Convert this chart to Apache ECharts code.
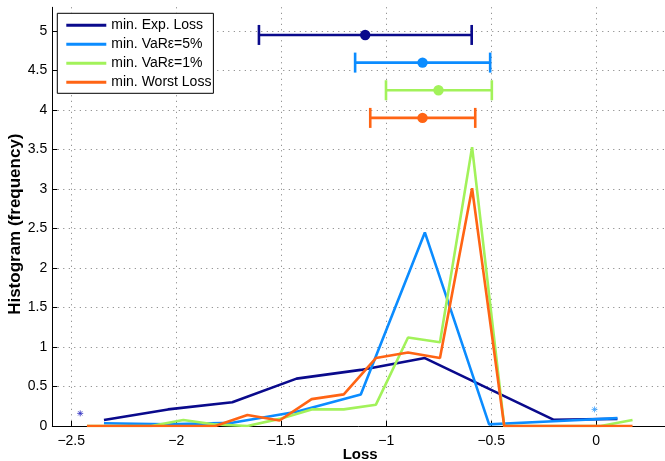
<!DOCTYPE html>
<html>
<head>
<meta charset="utf-8">
<script src="https://cdn.jsdelivr.net/npm/echarts@6/dist/echarts.min.js"></script>
<style>html,body{margin:0;padding:0;background:#fff}#c{width:665px;height:461px}</style>
</head>
<body>
<div id="c"></div>
<script>
// ---- data ----
const seriesNames = ['min. Exp. Loss', 'min. VaR\u03b5=5%', 'min. VaR\u03b5=1%', 'min. Worst Loss'];
const colors = ['#0a0a8c', '#0b8cff', '#a2f25a', '#ff6414'];

// coarse bins (9) for Exp. Loss and VaR 5%
const binsCoarse = [-2.344, -2.039, -1.733, -1.427, -1.121, -0.816, -0.510, -0.204, 0.101];
const expLoss = [0.076, 0.21, 0.30, 0.60, 0.71, 0.86, 0.47, 0.08, 0.09];
const var5 = [0.034, 0.02, 0.04, 0.18, 0.40, 2.45, 0.02, 0.06, 0.10];

// fine bins (18) for VaR 1% and Worst Loss
const binsFine = [-2.425, -2.272, -2.119, -1.966, -1.814, -1.661, -1.508, -1.355, -1.202,
                  -1.049, -0.896, -0.744, -0.591, -0.438, -0.285, -0.132, 0.021, 0.173];
const var1 = [0, 0, 0, 0.075, 0.02, 0, 0.09, 0.21, 0.21, 0.27, 1.12, 1.06, 3.53, 0, 0, 0, 0, 0.076];
const worst = [0, 0, 0, 0, 0, 0.14, 0.07, 0.34, 0.40, 0.86, 0.93, 0.86, 3.01, 0, 0, 0, 0, 0];

// error bars: [low, mean, high, yLevel]
const errLow = [-1.606, -1.148, -1.001, -1.076];
const errMid = [-1.100, -0.827, -0.751, -0.827];
const errHigh = [-0.593, -0.505, -0.497, -0.576];
const errY = [4.95, 4.60, 4.25, 3.90];

// star markers
const starX = [-2.457, -0.008];
const starY = [0.16, 0.21];
const starColors = ['#2c2cc0', '#3aa0ff'];

const xTicks = [-2.5, -2, -1.5, -1, -0.5, 0];
const yTicks = [0, 0.5, 1, 1.5, 2, 2.5, 3, 3.5, 4, 4.5, 5];

// ---- chart ----
const FONT = '"Liberation Sans", Arial, Helvetica, sans-serif';
const zip = (xs, ys) => xs.map((x, i) => [x, ys[i]]);
const lineData = [zip(binsCoarse, expLoss), zip(binsCoarse, var5), zip(binsFine, var1), zip(binsFine, worst)];

const chart = echarts.init(document.getElementById('c'), null, {renderer: 'canvas'});

const series = [];
lineData.forEach((d, i) => {
  series.push({
    name: seriesNames[i], type: 'line', data: d, symbol: 'none',
    lineStyle: {color: colors[i], width: 2.6}, itemStyle: {color: colors[i]},
    z: 3 + i, animation: false
  });
});
errY.forEach((y, i) => {
  const c = colors[i];
  series.push({
    name: 'err' + i, type: 'custom', z: 10, animation: false,
    data: [[errLow[i], errMid[i], errHigh[i], y]],
    encode: {x: [0, 1, 2], y: 3},
    renderItem: function (params, api) {
      const lo = api.coord([api.value(0), api.value(3)]);
      const mid = api.coord([api.value(1), api.value(3)]);
      const hi = api.coord([api.value(2), api.value(3)]);
      const st = {stroke: c, lineWidth: 2.6};
      return {type: 'group', children: [
        {type: 'line', shape: {x1: lo[0], y1: lo[1], x2: hi[0], y2: hi[1]}, style: st},
        {type: 'line', shape: {x1: lo[0], y1: lo[1] - 10, x2: lo[0], y2: lo[1] + 10}, style: st},
        {type: 'line', shape: {x1: hi[0], y1: hi[1] - 10, x2: hi[0], y2: hi[1] + 10}, style: st},
        {type: 'circle', shape: {cx: mid[0], cy: mid[1], r: 5.2}, style: {fill: c}}
      ]};
    }
  });
});
starX.forEach((x, i) => {
  series.push({
    name: 'star' + i, type: 'scatter', data: [[x, starY[i]]], z: 12, animation: false,
    symbol: 'path://M0,-5L0,5M-5,0L5,0M-3.5,-3.5L3.5,3.5M3.5,-3.5L-3.5,3.5',
    symbolSize: 6,
    itemStyle: {color: 'rgba(0,0,0,0)', borderColor: starColors[i], borderWidth: 1}
  });
});

const axisText = {color: '#000', fontFamily: FONT, fontSize: 14};
chart.setOption({
  animation: false,
  backgroundColor: '#fff',
  textStyle: {fontFamily: FONT},
  grid: {left: 52.3, right: 0, top: 7.3, bottom: 35, containLabel: false, outerBoundsMode: 'none'},
  legend: {
    data: seriesNames, orient: 'vertical', left: 57.3, top: 13.3,
    backgroundColor: '#fff', borderColor: '#000', borderWidth: 1, borderRadius: 0,
    padding: [5, 2, 4, 9], itemGap: 5, itemWidth: 40, itemHeight: 3, icon: 'rect',
    textStyle: {color: '#000', fontFamily: FONT, fontSize: 14}
  },
  xAxis: {
    type: 'value', min: -2.59, max: 0.3276,
    name: 'Loss', nameLocation: 'middle', nameGap: 21, nameMoveOverlap: false,
    nameTextStyle: {color: '#000', fontFamily: FONT, fontSize: 15, fontWeight: 'bold', padding: [0, 0, 0, 3]},
    axisLine: {show: true, onZero: false, lineStyle: {color: '#000', width: 1}},
    axisTick: {show: true, inside: true, length: 5, customValues: xTicks, lineStyle: {color: '#000'}},
    axisLabel: Object.assign({margin: 8, customValues: xTicks,
      formatter: v => String(v).replace('-', '\u2212')}, axisText),
    splitLine: {show: true, lineStyle: {color: '#7a7a7a', width: 1, type: [1, 4.5]}}
  },
  yAxis: {
    type: 'value', min: 0, max: 5.3,
    name: 'Histogram (frequency)', nameLocation: 'middle', nameGap: 28, nameMoveOverlap: false,
    nameTextStyle: {color: '#000', fontFamily: FONT, fontSize: 17, fontWeight: 'bold', padding: [0, 15, 0, 0]},
    axisLine: {show: true, onZero: false, lineStyle: {color: '#000', width: 1}},
    axisTick: {show: true, inside: true, length: 5, customValues: yTicks, lineStyle: {color: '#000'}},
    axisLabel: Object.assign({margin: 5, customValues: yTicks}, axisText),
    splitLine: {show: true, lineStyle: {color: '#7a7a7a', width: 1, type: [1, 4.5]}}
  },
  series: series
});
</script>
</body>
</html>
